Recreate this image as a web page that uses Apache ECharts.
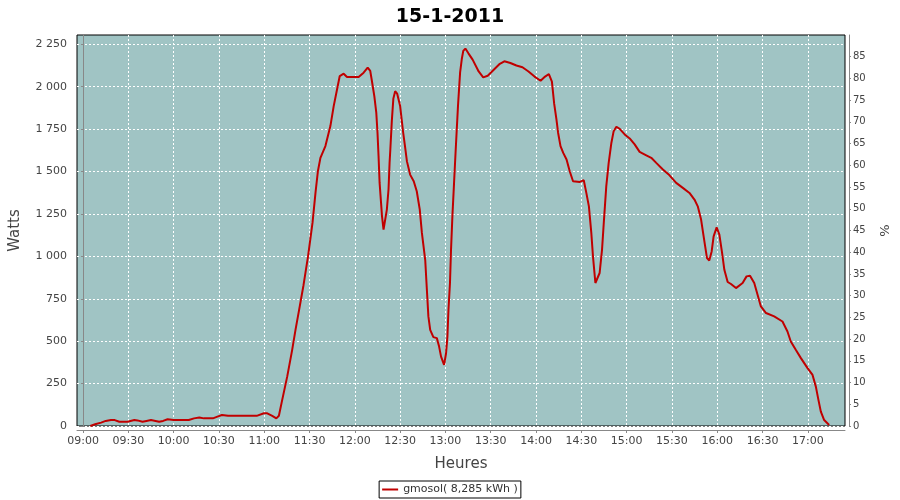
<!DOCTYPE html>
<html>
<head>
<meta charset="utf-8">
<script src="https://cdn.jsdelivr.net/npm/echarts@6/dist/echarts.min.js"></script>
<style>html,body{margin:0;padding:0;background:#fff}#c{width:900px;height:500px}</style>
</head>
<body>
<div id="c"></div>
<script>
// minutes after 09:00
var times = [4.8,8,12,15,18.5,21,24,29.5,34,36,39.4,42,45,48,50.4,53,56,60,65,70,73.5,77,80,86,89,92,96,105,115,119.8,122,125.3,128,129.7,131.9,135.2,138.5,140.7,143,146,149,152,154,155.5,157.2,160.5,163.8,166,168.2,170,172.6,174.8,178,182.5,185.8,188.5,190.2,191.3,192.9,194.2,195,195.7,196.4,198,199,200.1,201.2,202.3,203,203.5,204.5,205.5,206.7,208,210,211,212,213.2,214.5,216.6,219,221,223,224.4,226.6,227.7,228.7,229.9,232,234.3,235.8,237.1,239.1,240.4,241.3,242,243,243.7,244.6,245.7,246.8,248.3,249.7,250.8,251.8,253.2,255.2,258,262,265,268,272,276,279,283,287,291,295,299,303,306,308.5,310.5,312,313.5,314.6,316.2,318,320.2,322.3,324.5,329,331.6,333.3,335,336.6,337.7,339.3,340.6,342.1,343.7,345,346.5,348.1,349.9,351.4,353.2,355.4,358.7,362,365.3,368.6,373,376.3,379.6,384,388.4,392.8,397.2,401.6,404.9,407.1,409.3,410.8,412,413.2,414.7,416.3,417.6,419.6,421.4,423.2,424.7,426.9,429.1,432.4,433.5,436.8,439.4,441.7,444.5,446.7,448.9,452.3,457.7,463.2,466.5,468.7,472,475.4,479.8,483.1,485.3,487,488.6,490.8,494.1];
var watts = [0,10,20,30,35,35,25,25,35,33,25,30,35,30,25,30,40,35,35,35,45,50,45,45,55,65,60,60,60,75,75,60,45,60,154,291,449,567,680,830,1000,1200,1380,1500,1581,1650,1768,1886,1984,2063,2077,2057,2057,2057,2083,2113,2093,2034,1945,1847,1729,1591,1433,1236,1158,1148,1276,1394,1551,1630,1800,1930,1974,1960,1886,1807,1729,1650,1560,1482,1443,1384,1276,1138,980,803,646,567,524,518,468,409,360,429,527,685,843,1040,1236,1433,1630,1886,2083,2162,2211,2225,2197,2160,2090,2055,2065,2100,2135,2150,2140,2125,2115,2090,2060,2035,2060,2075,2030,1900,1807,1729,1650,1610,1571,1502,1443,1439,1449,1374,1295,1138,1000,843,833,902,1040,1217,1413,1551,1670,1738,1764,1752,1719,1695,1660,1616,1596,1581,1551,1512,1478,1433,1404,1374,1335,1295,1217,1128,1059,990,976,1029,1118,1171,1128,1020,921,849,837,813,807,843,882,886,843,774,705,666,646,616,557,498,449,400,341,301,232,154,85,35,6];
var xTicks = [0,30,60,90,120,150,180,210,240,270,300,330,360,390,420,450,480];
var wattTicks = [0,250,500,750,1000,1250,1500,1750,2000,2250];
var pctTicks = [0,5,10,15,20,25,30,35,40,45,50,55,60,65,70,75,80,85];
var seriesName = 'gmosol( 8,285 kWh )';
var title = '15-1-2011';

var data = times.map(function(t,i){return [t, watts[i]];});
function fmtTime(v){var m=540+Math.round(v);var h=Math.floor(m/60),mm=m%60;return (h<10?'0':'')+h+':'+(mm<10?'0':'')+mm;}
function fmtW(v){if(v>=1000){var r=v%1000;return Math.floor(v/1000)+' '+(r<10?'00':r<100?'0':'')+r;}return ''+v;}
var F='DejaVu Sans';
var chart = echarts.init(document.getElementById('c'),null,{renderer:'canvas'});
chart.setOption({
  animation:false,
  backgroundColor:'#fff',
  title:{text:title,left:'center',top:3,textStyle:{fontFamily:F,fontSize:19,fontWeight:'bold',color:'#000'}},
  grid:{left:76,right:54,top:35,bottom:74,show:true,backgroundColor:'#a0c4c4',borderColor:'#000',borderWidth:1},
  legend:{bottom:2,left:'center',data:[seriesName],icon:'rect',itemWidth:16,itemHeight:2,itemGap:4,
    borderColor:'#000',borderWidth:1,borderRadius:0,padding:[3,3,3,3],
    textStyle:{fontFamily:F,fontSize:11,color:'#333'}},
  xAxis:{type:'value',min:-4,max:504.6,offset:4,name:'Heures',nameLocation:'middle',nameGap:27,
    nameTextStyle:{fontFamily:F,fontSize:15,color:'#444'},
    axisLine:{show:true,onZero:false,lineStyle:{color:'#888'}},
    axisTick:{show:true,length:3,customValues:xTicks,lineStyle:{color:'#888'}},
    axisLabel:{customValues:xTicks,formatter:fmtTime,fontFamily:F,fontSize:11,color:'#444',margin:6},
    splitLine:{show:true,lineStyle:{color:'#fff',type:[2,2],width:1}}},
  yAxis:[
   {type:'value',min:0,max:2305,offset:5,name:'Watts',nameLocation:'middle',nameGap:49,
    nameTextStyle:{fontFamily:F,fontSize:15,color:'#444'},
    axisLine:{show:true,lineStyle:{color:'#888'}},
    axisTick:{show:true,length:2,customValues:wattTicks,lineStyle:{color:'#888'}},
    axisLabel:{customValues:wattTicks,formatter:fmtW,fontFamily:F,fontSize:11,color:'#444',margin:5},
    splitLine:{show:true,lineStyle:{color:'#fff',type:[2,2],width:1}}},
   {type:'value',min:0,max:90,offset:4,position:'right',name:'%',nameLocation:'middle',nameGap:30,
    nameTextStyle:{fontFamily:F,fontSize:13,color:'#444'},
    axisLine:{show:true,lineStyle:{color:'#888'}},
    axisTick:{show:true,length:2,customValues:pctTicks,lineStyle:{color:'#888'}},
    axisLabel:{customValues:pctTicks,fontFamily:F,fontSize:10,color:'#444',margin:4},
    splitLine:{show:false}}
  ],
  series:[{name:seriesName,type:'line',data:data,showSymbol:false,symbol:'none',
    lineStyle:{color:'#c00000',width:2},itemStyle:{color:'#c00000'}}]
});
</script>
</body>
</html>
